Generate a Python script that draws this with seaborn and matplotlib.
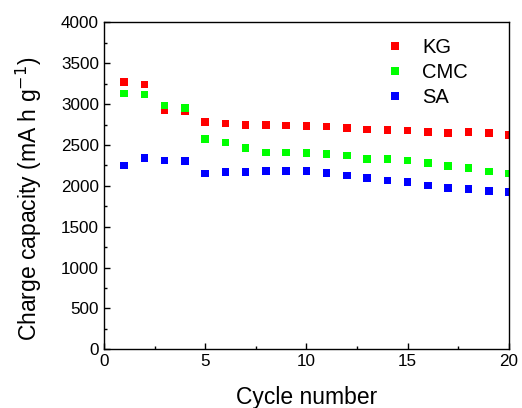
import matplotlib
matplotlib.use("Agg")
import matplotlib.pyplot as plt
import seaborn as sns
import pandas as pd
from matplotlib.ticker import MultipleLocator

cycles = list(range(1, 21))
kg = [3270, 3240, 2930, 2910, 2780, 2765, 2745, 2745, 2740, 2730,
      2725, 2705, 2690, 2685, 2675, 2660, 2645, 2660, 2645, 2620]
cmc = [3130, 3120, 2985, 2950, 2570, 2530, 2465, 2410, 2410, 2405,
       2390, 2370, 2325, 2325, 2310, 2280, 2240, 2220, 2175, 2150]
sa = [2250, 2340, 2310, 2305, 2150, 2170, 2170, 2180, 2180, 2180,
      2160, 2125, 2095, 2065, 2050, 2005, 1975, 1965, 1940, 1925]
names = ["KG", "CMC", "SA"]
colors = ["#ff0000", "#00ff00", "#0000ff"]

df = pd.DataFrame({
    "cycle": cycles * 3,
    "capacity": kg + cmc + sa,
    "binder": [n for n in names for _ in cycles],
})

sns.set_style("ticks", {"axes.edgecolor": "black", "text.color": "black",
                        "xtick.color": "black", "ytick.color": "black",
                        "axes.labelcolor": "black"})
plt.rcParams["font.family"] = ["Liberation Sans", "DejaVu Sans"]

fig = plt.figure(figsize=(5.22, 4.08), dpi=100)
ax = fig.add_axes([0.199, 0.144, 0.776, 0.801])
sns.scatterplot(data=df, x="cycle", y="capacity", hue="binder",
                palette=dict(zip(names, colors)), marker="s", s=30,
                linewidth=0, ax=ax)

ax.set_xlim(0, 20)
ax.set_ylim(0, 4000)
ax.xaxis.set_major_locator(MultipleLocator(5))
ax.xaxis.set_minor_locator(MultipleLocator(2.5))
ax.yaxis.set_major_locator(MultipleLocator(500))
ax.yaxis.set_minor_locator(MultipleLocator(250))
ax.tick_params(which="both", direction="in", top=False, right=False,
               labelsize=12.3, width=1)
ax.tick_params(which="major", length=4)
ax.tick_params(which="minor", length=2.5)
for sp in ax.spines.values():
    sp.set_linewidth(1)
    sp.set_color("black")

ax.set_xlabel("Cycle number", fontsize=16.5)
ax.set_ylabel("Charge capacity (mA h g$^{-1}$)", fontsize=16.5)
ax.xaxis.set_label_coords(0.5, -0.113)
ax.yaxis.set_label_coords(-0.148, 0.46)

leg = ax.legend(title=None, frameon=False, fontsize=14.5, loc="upper left",
                bbox_to_anchor=(0.625, 1.009), handletextpad=0.35,
                labelspacing=0.3, markerscale=1.0)

fig.savefig("out.png", dpi=100)
